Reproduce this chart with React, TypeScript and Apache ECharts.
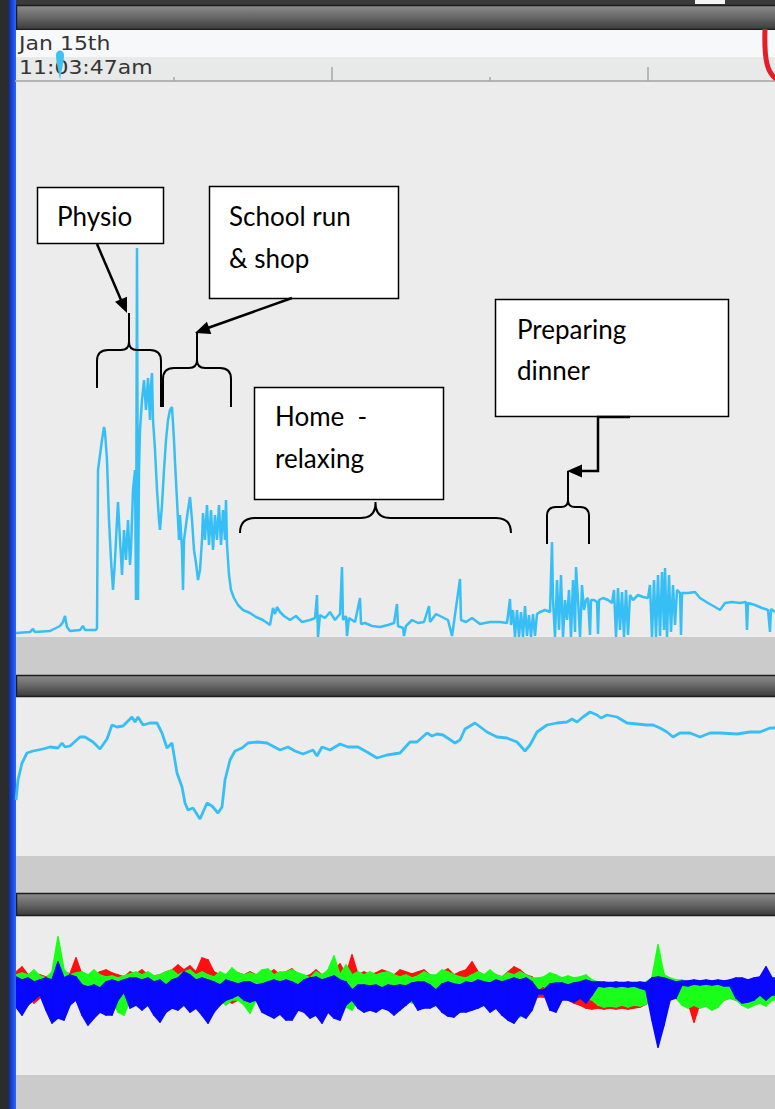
import React, { useEffect, useRef } from "react";
import * as echarts from "echarts";

// ---------- DATA ----------
// x = sample index (0..759), values in arbitrary sensor units
const dateLabel = "Jan 15th";
const timeLabel = "11:03:47am";
const minorTicks = [158, 474];
const majorTicks = [316, 632];

// Panel 1: activity level
const activityLevel: [number, number][] = [
  [0,4],[14,5],[17,8],[19,5],[34,6],[40,9],[44,11],[47,15],[49,21],[51,10],[54,6],[64,7],[67,11],[69,7],[80,7],[81,9],
  [82,167],[84,182],[86,197],[88,210],[89,205],[91,177],[93,117],[95,77],[97,47],[99,77],[101,117],[102,135],[104,97],
  [106,62],[108,107],[110,77],[112,117],[114,72],[115,87],[117,147],[119,167],[120,37],[121,389],[122,37],[123,167],
  [124,207],[126,237],[128,257],[130,227],[132,259],[134,217],[135,252],[136,264],[137,217],[139,187],[141,147],[143,117],
  [144,107],[146,132],[148,167],[150,197],[152,217],[154,227],[156,230],[158,197],[159,175],[161,137],[163,97],[164,122],
  [166,87],[167,47],[168,97],[170,112],[172,127],[174,140],[176,117],[178,87],[180,74],[182,57],[184,67],[186,97],[187,124],
  [189,97],[191,132],[193,92],[195,127],[197,87],[199,122],[201,97],[203,132],[205,92],[207,127],[209,97],[210,137],[211,92],
  [213,62],[215,47],[218,39],[222,32],[227,27],[234,24],[240,20],[247,17],[254,12],[257,29],[259,23],[261,30],[264,25],
  [268,21],[274,17],[280,21],[286,15],[294,17],[299,19],[301,42],[302,0],[304,22],[309,19],[314,25],[319,17],[324,23],
  [326,70],[327,17],[330,21],[331,1],[333,19],[339,15],[344,39],[345,13],[349,14],[356,11],[364,10],[372,12],[378,14],
  [381,33],[382,11],[387,9],[388,1],[390,11],[396,17],[402,14],[408,15],[413,31],[414,15],[420,23],[426,20],[432,17],
  [436,1],[438,15],[444,58],[445,17],[450,15],[456,19],[464,13],[474,15],[484,15],[491,14],[494,38],[495,12],[497,27],
  [499,0],[501,27],[503,0],[505,25],[507,0],[509,31],[511,1],[513,22],[515,0],[517,23],[519,1],[521,23],[524,25],[529,27],
  [534,25],[536,95],[537,37],[539,0],[541,57],[543,7],[545,62],[547,0],[549,37],[551,17],[553,47],[555,0],[557,57],[559,5],
  [560,70],[562,37],[564,0],[566,52],[568,27],[570,37],[572,39],[574,2],[575,37],[578,37],[581,35],[582,3],[583,37],
  [587,39],[592,37],[596,34],[598,47],[600,0],[602,49],[604,7],[606,45],[608,0],[610,47],[612,2],[614,42],[617,37],
  [622,42],[627,40],[632,39],[634,52],[636,0],[638,57],[640,0],[642,62],[644,1],[646,65],[648,7],[649,69],[651,0],
  [653,62],[655,5],[657,52],[659,12],[661,47],[664,44],[665,2],[666,44],[672,44],[679,45],[684,39],[692,34],[699,30],
  [704,27],[709,34],[716,35],[724,34],[730,35],[731,7],[732,34],[739,32],[746,29],[752,27],[754,5],[755,28],[759,25]
];

// Panel 2: posture / smoothed level
const postureLevel: [number, number][] = [
  [0,56],[2,76],[6,93],[11,103],[17,105],[27,107],[34,109],[42,108],[46,113],[49,109],[54,110],[64,119],[69,119],[77,114],
  [84,107],[91,117],[96,131],[101,129],[107,130],[116,139],[119,134],[122,139],[127,131],[134,133],[141,133],[146,123],
  [151,108],[156,113],[161,83],[166,69],[169,53],[172,46],[177,48],[184,37],[191,53],[196,50],[202,43],[206,49],[209,76],
  [214,96],[219,105],[226,108],[232,113],[241,114],[251,113],[264,106],[272,109],[279,105],[287,102],[297,106],[301,100],
  [306,109],[314,106],[324,112],[332,109],[342,109],[351,104],[361,98],[371,101],[384,103],[394,114],[401,114],[411,123],
  [416,120],[421,122],[427,121],[439,113],[444,116],[449,127],[459,133],[471,124],[481,119],[491,118],[501,114],[509,105],
  [514,111],[521,124],[531,131],[541,133],[551,134],[556,137],[561,134],[567,139],[574,144],[581,141],[585,138],[591,141],
  [601,139],[611,133],[621,132],[631,131],[637,131],[644,128],[651,124],[657,119],[664,123],[674,123],[684,119],[694,123],
  [704,123],[721,122],[734,124],[744,124],[754,128],[759,128]
];

// Panel 3: accelerometer axes, per time bin [high, low]
const BIN = 6;
const accRed: [number, number][] = [
  [28,0],[33,2],[25,5],[27,-3],[25,2],[23,5],[25,2],[30,5],[28,7],[26,0],[42,5],[25,10],[23,5],[25,0],[28,2],[30,5],
  [27,8],[25,10],[23,5],[28,2],[26,5],[30,8],[25,5],[24,2],[25,0],[28,3],[30,5],[35,2],[30,7],[34,5],[28,2],[42,5],
  [40,0],[28,2],[25,5],[23,0],[25,-3],[27,0],[25,0],[28,-2],[25,0],[24,2],[26,5],[30,0],[25,2],[28,5],[31,0],[25,2],
  [23,5],[25,0],[30,0],[25,2],[28,0],[30,2],[36,0],[25,-3],[45,-3],[25,0],[28,2],[25,5],[27,0],[30,2],[28,0],[25,0],
  [30,2],[28,5],[26,2],[28,0],[30,3],[25,0],[23,2],[28,0],[31,0],[25,2],[28,0],[30,2],[38,0],[28,2],[25,0],[28,3],
  [25,0],[23,0],[28,2],[33,5],[30,0],[25,2],[23,7],[15,3],[12,3],[22,5],[23,2],[20,5],[18,0],[15,-3],[10,-5],[5,-8],
  [3,-9],[5,-8],[3,-9],[4,-8],[3,-9],[5,-8],[3,-9],[5,-8],[4,-7],[6,-4],[20,0],[43,5],[25,10],[20,8],[15,5],[10,0],
  [8,-2],[10,-22],[8,-3],[5,-3],[7,-2],[5,-3],[7,0],[10,2],[12,0],[15,2],[18,5],[16,3],[20,5],[18,2],[20,5]
];
const accGreen: [number, number][] = [
  [25,-7],[27,0],[25,-5],[30,2],[24,5],[22,0],[28,-3],[63,0],[30,2],[25,0],[27,5],[28,0],[25,0],[30,2],[25,3],[23,5],
  [24,0],[22,-12],[24,-15],[26,0],[28,2],[25,-2],[28,0],[24,0],[25,2],[28,0],[30,0],[25,-3],[28,2],[30,0],[25,3],[28,0],
  [25,0],[23,2],[28,0],[25,-5],[32,0],[27,0],[25,-5],[27,-13],[25,0],[30,5],[31,2],[25,0],[28,0],[28,-2],[30,0],[27,2],
  [25,-3],[22,0],[28,0],[25,-5],[30,0],[44,-3],[25,-5],[35,-7],[25,-10],[28,0],[25,2],[28,0],[25,0],[27,2],[28,-3],[25,0],
  [23,2],[25,0],[22,-3],[24,0],[28,0],[25,0],[25,2],[30,-3],[28,0],[25,2],[23,0],[22,0],[25,2],[28,0],[25,0],[30,2],
  [25,0],[23,0],[27,-17],[25,-10],[28,-17],[25,-5],[22,2],[22,10],[23,15],[27,0],[25,5],[22,10],[24,12],[22,5],[23,10],[25,2],
  [20,0],[18,-5],[17,-7],[18,-6],[17,-7],[18,-5],[17,-7],[18,-5],[17,-6],[18,-4],[22,0],[55,0],[25,2],[22,5],[20,2],[20,-5],
  [18,-8],[18,-5],[17,-8],[18,-6],[18,-10],[17,-7],[18,0],[20,2],[20,0],[19,-5],[20,-8],[18,-5],[20,-3],[18,-6],[20,0]
];
const accBlue: [number, number][] = [
  [23,-7],[20,-15],[22,-5],[18,0],[20,5],[22,-10],[20,-23],[38,-18],[22,-20],[25,-5],[23,0],[15,-15],[13,-25],[15,-18],[12,-12],[18,-15],
  [20,-15],[18,0],[20,8],[22,-8],[22,-5],[20,-10],[22,-5],[18,-15],[20,-22],[15,-12],[20,-8],[22,-10],[28,-5],[25,-12],[20,-8],[22,-15],
  [20,-23],[18,-12],[15,-5],[20,0],[18,2],[16,5],[18,0],[18,-2],[15,0],[16,-12],[18,-15],[20,-18],[18,-14],[20,-20],[18,-20],[15,-10],
  [20,-12],[22,-18],[23,-15],[20,-23],[22,-12],[24,-18],[20,-20],[18,-5],[10,0],[15,-8],[15,-12],[14,-10],[15,-12],[12,-8],[15,-10],[14,-15],
  [15,-10],[14,-5],[17,0],[18,-10],[18,-8],[15,-8],[10,-5],[16,-12],[18,-16],[16,-17],[15,-12],[18,-12],[17,-10],[20,-8],[18,-5],[17,-12],
  [20,-8],[18,-15],[20,-20],[22,-23],[20,-15],[22,-18],[18,-10],[10,6],[10,6],[16,-10],[17,-12],[17,0],[15,0],[17,-2],[18,2],[20,-3],
  [18,5],[18,14],[18,13],[17,14],[18,13],[17,14],[18,13],[17,14],[18,12],[17,10],[22,-20],[23,-47],[22,-25],[20,0],[18,2],[19,15],
  [19,14],[20,16],[19,15],[20,16],[19,15],[20,16],[19,14],[20,14],[22,2],[22,-3],[20,-2],[22,0],[23,5],[33,0],[22,5]
];

// Annotation texts
const noteTexts = {
  physio: ["Physio"],
  school: ["School run", "& shop"],
  home: ["Home  -", "relaxing"],
  dinner: ["Preparing", "dinner"],
};

// ---------- helpers ----------
function bracePath(xL: number, xR: number, yH: number, yEL: number, yER: number, yTip: number, r: number, rc: number) {
  const xC = (xL + xR) / 2;
  const rl = Math.min(r, yEL - yH);
  const rr = Math.min(r, yER - yH);
  return [
    `M${xL} ${yEL}`,
    `L${xL} ${yH + rl}`,
    `Q${xL} ${yH} ${xL + rl} ${yH}`,
    `L${xC - rc} ${yH}`,
    `Q${xC} ${yH} ${xC} ${yH - rc}`,
    `L${xC} ${yTip}`,
    `M${xC} ${yH - rc}`,
    `Q${xC} ${yH} ${xC + rc} ${yH}`,
    `L${xR - rr} ${yH}`,
    `Q${xR} ${yH} ${xR} ${yH + rr}`,
    `L${xR} ${yER}`,
  ].join(" ");
}

function arrowHead(fx: number, fy: number, tx: number, ty: number, len = 15, half = 6.5) {
  const dx = tx - fx, dy = ty - fy;
  const d = Math.sqrt(dx * dx + dy * dy);
  const ux = dx / d, uy = dy / d;
  const bx = tx - ux * len, by = ty - uy * len;
  return [[tx, ty], [bx - uy * half, by + ux * half], [bx + uy * half, by - ux * half]];
}

let shapesRegistered = false;
function registerShapes() {
  if (shapesRegistered) return;
  shapesRegistered = true;
  const g: any = echarts.graphic;
  g.registerShape("bracePhysio", g.extendPath(bracePath(97, 161, 350, 388, 407, 313, 11, 8), {}));
  g.registerShape("braceSchool", g.extendPath(bracePath(163, 231, 368, 407, 407, 333, 11, 8), {}));
  g.registerShape("braceHome", g.extendPath(bracePath(240, 511, 518, 533, 533, 502, 15, 15), {}));
  g.registerShape("braceDinner", g.extendPath(bracePath(547, 589, 507, 544, 544, 471, 9, 7), {}));
  g.registerShape("cursorDrop", g.extendPath("M60 80 C58.5 70 56 62 56 55 C56 49 64 49 64 55 C64 62 61.5 70 60 80 Z", {}));
}

// band series: envelope of a noisy signal, one polygon per time bin
function bandSeries(name: string, bins: [number, number][], color: string, z: number) {
  return {
    type: "custom",
    name,
    xAxisIndex: 4,
    yAxisIndex: 3,
    z,
    clip: true,
    data: bins.map(([hi, lo], i) => [i * BIN, hi, lo]),
    encode: { x: 0, y: [1, 2] },
    renderItem: (params: any, api: any) => {
      const i = params.dataIndex;
      const nxt = bins[Math.min(i + 1, bins.length - 1)];
      const x0 = api.value(0);
      const x1 = Math.min(x0 + BIN, 759);
      const p1 = api.coord([x0, api.value(1)]);
      const p2 = api.coord([x1, nxt[0]]);
      const p3 = api.coord([x1, nxt[1]]);
      const p4 = api.coord([x0, api.value(2)]);
      return {
        type: "polygon",
        shape: { points: [p1, p2, p3, p4] },
        style: { fill: color, stroke: color, lineWidth: 1.6, lineJoin: "round" },
      };
    },
  };
}

export default function App() {
  const ref = useRef<HTMLDivElement>(null);

  useEffect(() => {
    if (!ref.current) return;
    registerShapes();
    const chart = echarts.init(ref.current, undefined, { renderer: "svg" });

    const barGrad = () =>
      new echarts.graphic.LinearGradient(0, 0, 0, 1, [
        { offset: 0, color: "#8c8c8c" },
        { offset: 0.5, color: "#666666" },
        { offset: 1, color: "#3a3a3a" },
      ]);

    const bg: any[] = [
      { type: "rect", z: 1, shape: { x: 0, y: 0, width: 775, height: 5 }, style: { fill: "#3a3a3a" } },
      { type: "rect", z: 1, shape: { x: 695, y: 0, width: 30, height: 4 }, style: { fill: "#f4f4f4" } },
      { type: "rect", z: 1, shape: { x: 16.5, y: 5.5, width: 770, height: 24 }, style: { fill: barGrad(), stroke: "#1c1c1c", lineWidth: 1.5 } },
      { type: "rect", z: 1, shape: { x: 16, y: 30, width: 759, height: 27 }, style: { fill: "#f7f8fa" } },
      { type: "rect", z: 1, shape: { x: 16, y: 57, width: 759, height: 24 }, style: { fill: "#e8e9e9" } },
      { type: "rect", z: 1, shape: { x: 16.5, y: 675.5, width: 770, height: 21 }, style: { fill: barGrad(), stroke: "#1c1c1c", lineWidth: 1.5 } },
      { type: "rect", z: 1, shape: { x: 16.5, y: 893.5, width: 770, height: 22 }, style: { fill: barGrad(), stroke: "#1c1c1c", lineWidth: 1.5 } },
      { type: "rect", z: 1, shape: { x: 0, y: 0, width: 9, height: 1109 }, style: { fill: "#2c2c2c" } },
      {
        type: "rect", z: 1, shape: { x: 9, y: 0, width: 7, height: 1109 },
        style: {
          fill: new echarts.graphic.LinearGradient(0, 0, 1, 0, [
            { offset: 0, color: "#0a2cb5" },
            { offset: 1, color: "#2a66ff" },
          ]),
        },
      },
      { type: "text", z: 6, x: 19, y: 44, scaleY: 0.85, style: { text: dateLabel, font: "22px 'DejaVu Sans'", fill: "#353535", verticalAlign: "middle" } },
      { type: "text", z: 6, x: 19, y: 68, scaleY: 0.85, style: { text: timeLabel, font: "22px 'DejaVu Sans'", fill: "#353535", verticalAlign: "middle" } },
      { type: "cursorDrop", z: 7, x: 0, y: 0, style: { fill: "#3ec2f3" } },
      { type: "bezierCurve", z: 7, shape: { x1: 765, y1: 29, cpx1: 764, cpy1: 60, cpx2: 767, cpy2: 74, x2: 778, y2: 80 }, style: { stroke: "#e41d27", lineWidth: 5, fill: null } },
    ];

    const box = (x: number, y: number, w: number, h: number) => ({
      type: "rect", z: 100, shape: { x, y, width: w, height: h },
      style: { fill: "#ffffff", stroke: "#000000", lineWidth: 1.5 },
    });
    const txt = (x: number, y: number, t: string) => ({
      type: "text", z: 101, x, y,
      style: { text: t, font: "26px Lato", fill: "#000000", verticalAlign: "middle" },
    });
    const braceEl = (name: string) => ({
      type: name, z: 100, x: 0, y: 0, style: { fill: null, stroke: "#000000", lineWidth: 2 },
    });
    const lineEl = (x1: number, y1: number, x2: number, y2: number) => ({
      type: "line", z: 100, shape: { x1, y1, x2, y2 }, style: { stroke: "#000000", lineWidth: 2.5 },
    });
    const headEl = (fx: number, fy: number, tx: number, ty: number) => ({
      type: "polygon", z: 100, shape: { points: arrowHead(fx, fy, tx, ty) }, style: { fill: "#000000" },
    });

    const notes: any[] = [
      box(37.5, 187.5, 126, 56), txt(57, 216, noteTexts.physio[0]),
      box(209.5, 186.5, 189, 112), txt(229, 216, noteTexts.school[0]), txt(229, 258, noteTexts.school[1]),
      box(254.5, 387.5, 189, 112), txt(275, 416, noteTexts.home[0]), txt(275, 458, noteTexts.home[1]),
      box(495.5, 299.5, 233, 117), txt(517, 329, noteTexts.dinner[0]), txt(517, 370, noteTexts.dinner[1]),
      braceEl("bracePhysio"), braceEl("braceSchool"), braceEl("braceHome"), braceEl("braceDinner"),
      lineEl(97, 244, 121, 300), headEl(97, 244, 127, 313),
      lineEl(292, 298, 205, 329), headEl(292, 298, 195, 333),
      { type: "polyline", z: 100, shape: { points: [[630, 417], [598, 417], [598, 471], [580, 471]] }, style: { stroke: "#000000", lineWidth: 2.5, fill: null } },
      headEl(598, 471, 567, 471),
    ];

    const hiddenX = (gridIndex: number) => ({
      type: "value", gridIndex, min: 0, max: 759,
      axisLine: { show: false }, axisTick: { show: false }, axisLabel: { show: false }, splitLine: { show: false },
    });
    const hiddenY = (gridIndex: number, min: number, max: number) => ({
      type: "value", gridIndex, min, max,
      axisLine: { show: false }, axisTick: { show: false }, axisLabel: { show: false }, splitLine: { show: false },
    });

    const option: any = {
      animation: false,
      backgroundColor: "#cbcbcb",
      grid: [
        { left: 16, top: 30, width: 759, height: 51, show: false },
        { left: 16, top: 82, width: 759, height: 555, show: true, backgroundColor: "#ececec", borderWidth: 0 },
        { left: 16, top: 697, width: 759, height: 159, show: true, backgroundColor: "#ececec", borderWidth: 0 },
        { left: 16, top: 916, width: 759, height: 159, show: true, backgroundColor: "#ececec", borderWidth: 0 },
      ],
      xAxis: [
        {
          type: "value", gridIndex: 0, position: "bottom", min: 0, max: 759, z: 5,
          axisLine: { show: true, lineStyle: { color: "#b4b4b4", width: 2 } },
          axisTick: { show: true, inside: true, length: 4, customValues: minorTicks, lineStyle: { color: "#a6a6a6", width: 1.5 } },
          axisLabel: { show: false }, splitLine: { show: false },
        },
        {
          type: "value", gridIndex: 0, position: "bottom", offset: 0, min: 0, max: 759, z: 5,
          axisLine: { show: false },
          axisTick: { show: true, inside: true, length: 14, customValues: majorTicks, lineStyle: { color: "#a6a6a6", width: 1.5 } },
          axisLabel: { show: false }, splitLine: { show: false },
        },
        hiddenX(1), hiddenX(2), hiddenX(3),
      ],
      yAxis: [hiddenY(0, 0, 1), hiddenY(1, 0, 555), hiddenY(2, 0, 159), hiddenY(3, -75, 84)],
      series: [
        {
          type: "line", xAxisIndex: 2, yAxisIndex: 1, data: activityLevel, symbol: "none",
          lineStyle: { color: "#37bff5", width: 2.5 }, z: 3,
        },
        {
          type: "line", xAxisIndex: 3, yAxisIndex: 2, data: postureLevel, symbol: "none",
          lineStyle: { color: "#37bff5", width: 2.8 }, z: 3,
        },
        bandSeries("x", accRed, "#ff1010", 3),
        bandSeries("y", accGreen, "#19ff19", 4),
        bandSeries("z", accBlue, "#0808ff", 5),
      ],
      graphic: { elements: [...bg, ...notes] },
    };

    chart.setOption(option);
    return () => chart.dispose();
  }, []);

  return (
    <div
      ref={ref}
      style={{ position: "absolute", left: 0, top: 0, width: 775, height: 1109 }}
    />
  );
}
